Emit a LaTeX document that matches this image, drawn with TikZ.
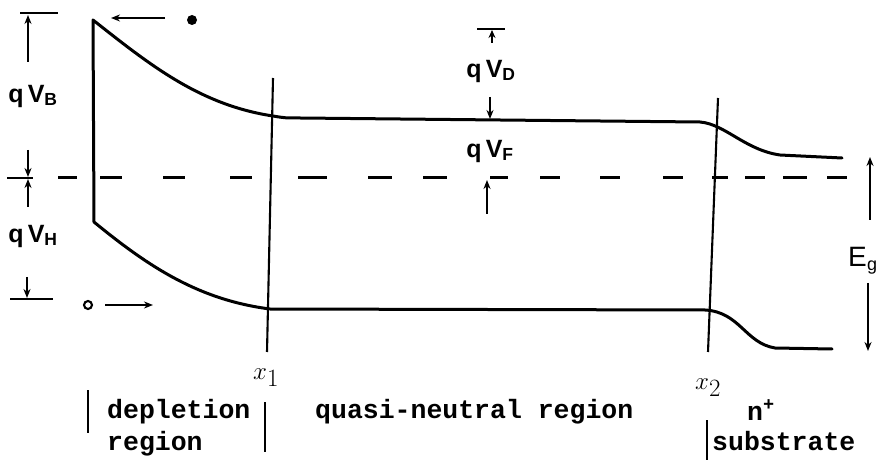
\documentclass[tikz,border=0pt]{standalone}
\usepackage{fontspec}
\setmainfont{Liberation Sans}
\setmonofont{Liberation Mono}
\usetikzlibrary{arrows.meta}
\begin{document}
\begin{tikzpicture}[x=1pt,y=-1pt,
  band/.style={line width=3pt,line join=round,line cap=round},
  fermi/.style={line width=3pt},
  bound/.style={line width=2.1pt},
  dimarrow/.style={line width=2.1pt,-{Stealth[length=9pt,width=7pt]}},
  tick/.style={line width=2.6pt},
  hand/.style={font=\fontsize{25}{27}\selectfont\bfseries,inner sep=0pt},
  tt/.style={font=\fontsize{26.5}{30}\selectfont\ttfamily\bfseries,inner sep=0pt,anchor=base west},
  xlab/.style={font=\fontsize{34}{36}\selectfont,inner sep=0pt,anchor=base west}]
\useasboundingbox (0,0) rectangle (881,462);
\clip (0,0) rectangle (881,462);

% band edges
\coordinate (cbL) at (93,20);
\coordinate (vbL) at (94,222);
\draw[band] (842,158) -- (780,155) .. controls (745,150) and (725,124) .. (700,122)
  -- (300,118) .. controls (285,118) .. (273,116)
  .. controls (200,105) and (150,65) .. (cbL) -- (vbL)
  .. controls (150,268) and (200,300) .. (270,309) -- (705,310)
  .. controls (740,312) and (745,343) .. (775,348) -- (832,349);

% Fermi level
\foreach \a/\b in {58/77,100/122,163/185,230/252,298/327,368/392,423/447,490/508,540/560,600/620,663/683,712/728,745/765,783/807,827/847}
  \draw[fermi] (\a,178) -- (\b,178);

% boundaries x1, x2
\coordinate (x1t) at (273,78);
\coordinate (x1b) at (267,352);
\coordinate (x2t) at (718,98);
\coordinate (x2b) at (708,352);
\draw[bound] (x1t) -- (x1b);
\draw[bound] (x2t) -- (x2b);

% left dimension marks
\coordinate (tb1) at (20,13); \coordinate (tb2) at (58,13);
\coordinate (mb1) at (7,178); \coordinate (mb2) at (33,178);
\coordinate (bb1) at (10,299); \coordinate (bb2) at (53,299);
\draw[tick] (tb1) -- (tb2);
\draw[tick] (mb1) -- (mb2);
\draw[tick] (bb1) -- (bb2);
\coordinate (a1s) at (28,62);  \coordinate (a1e) at (28,15);
\coordinate (a2s) at (28,150); \coordinate (a2e) at (28,177);
\coordinate (a3s) at (28,207); \coordinate (a3e) at (28,179);
\coordinate (a4s) at (27,277); \coordinate (a4e) at (27,298);
\draw[dimarrow] (a1s) -- (a1e);
\draw[dimarrow] (a2s) -- (a2e);
\draw[dimarrow] (a3s) -- (a3e);
\draw[dimarrow] (a4s) -- (a4e);
\node[hand] (qvb) at (33,96) {q\,V\textsubscript{B}};
\node[hand] (qvh) at (33,236) {q\,V\textsubscript{H}};

% electron and hole
\node[circle,fill,inner sep=0pt,minimum size=10pt] (el) at (192,20) {};
\coordinate (elA) at (165,18); \coordinate (elB) at (111,18);
\draw[dimarrow] (elA) -- (elB);
\node[circle,draw,line width=2.1pt,inner sep=0pt,minimum size=8pt] (ho) at (88,305) {};
\coordinate (hoA) at (105,305); \coordinate (hoB) at (153,305);
\draw[dimarrow] (hoA) -- (hoB);

% qV_D and qV_F
\coordinate (db1) at (477,29); \coordinate (db2) at (505,29);
\draw[tick] (db1) -- (db2);
\coordinate (d1s) at (492,43); \coordinate (d1e) at (492,30);
\draw[line width=2.1pt,-{Stealth[length=8pt,width=7pt]}] (d1s) -- (d1e);
\node[hand] (qvd) at (491,71) {q\,V\textsubscript{D}};
\coordinate (d2s) at (490,97); \coordinate (d2e) at (490,119);
\draw[dimarrow] (d2s) -- (d2e);
\node[hand] (qvf) at (490,151) {q\,V\textsubscript{F}};
\coordinate (f1s) at (487,214); \coordinate (f1e) at (487,180);
\draw[dimarrow] (f1s) -- (f1e);

% E_g
\coordinate (g1s) at (870,220); \coordinate (g1e) at (870,157);
\coordinate (g2s) at (868,283); \coordinate (g2e) at (868,351);
\draw[dimarrow] (g1s) -- (g1e);
\draw[dimarrow] (g2s) -- (g2e);
\node[font=\fontsize{28}{30}\selectfont,inner sep=0pt,anchor=base west] (eg) at (848,267) {E\kern0.3pt\raisebox{-4pt}{\fontsize{18}{18}\selectfont g}};

% labels
\node[xlab] (lx1) at (253,379) {$x_1$};
\node[xlab] (lx2) at (695,389) {$x_2$};

\coordinate (s1t) at (88,390); \coordinate (s1b) at (88,433);
\coordinate (s2t) at (265,402); \coordinate (s2b) at (265,452);
\coordinate (s3t) at (707,420); \coordinate (s3b) at (707,460);
\draw[bound] (s1t) -- (s1b);
\draw[bound] (s2t) -- (s2b);
\draw[bound] (s3t) -- (s3b);
\node[tt] (dep) at (107,418) {depletion};
\node[tt] (reg) at (107,450) {region};
\node[tt] (qn) at (315,418) {quasi-neutral region};
\node[tt] (np) at (747,420) {n\textsuperscript{+}};
\node[tt] (sub) at (712,450) {substrate};
\end{tikzpicture}
\end{document}
